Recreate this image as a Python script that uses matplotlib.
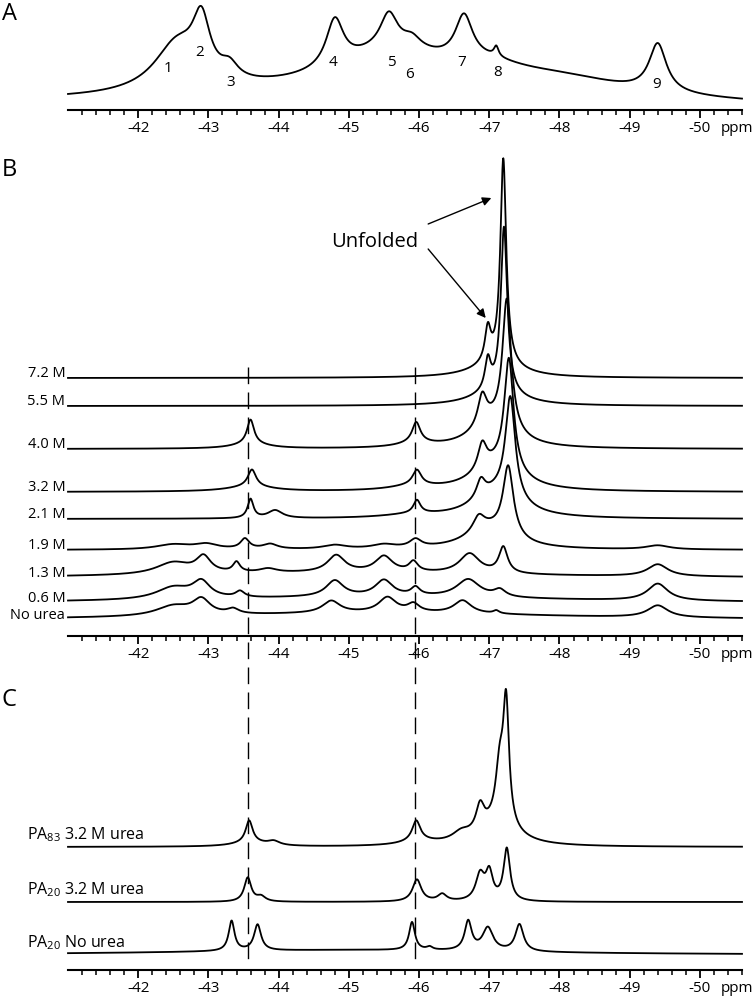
import numpy as np
import matplotlib
matplotlib.use("Agg")
import matplotlib.pyplot as plt
from matplotlib import transforms
from matplotlib.ticker import FixedLocator, FormatStrFormatter

plt.rcParams['font.family'] = ['Open Sans', 'DejaVu Sans']
plt.rcParams['axes.unicode_minus'] = False
plt.rcParams['mathtext.default'] = 'regular'

# ---- data (peaks: centre ppm, height, full width ppm) ----
ppm_range = (-41.0, -50.6)
major_ticks = [-42, -43, -44, -45, -46, -47, -48, -49, -50]

# panel A: native spectrum, numbered resonances
a_peaks = [(-46.0, 16, 7.0), (-45.6, 36, 2.0), (-48.0, 15, 2.5), (-47.0, 12, 1.2),
           (-42.55, 48, 0.8), (-42.9, 56, 0.3), (-43.3, 14, 0.3), (-44.8, 47, 0.3),
           (-45.57, 34, 0.3), (-45.9, 10, 0.3), (-46.64, 44, 0.3), (-47.1, 10, 0.08),
           (-49.4, 48, 0.3)]
a_base = (5, 0)
a_numbers = ["1", "2", "3", "4", "5", "6", "7", "8", "9"]
a_number_ppm = [-42.43, -42.88, -43.32, -44.77, -45.60, -45.87, -46.60, -47.12, -49.39]

# panel B: urea titration
b_labels = ["7.2 M", "5.5 M", "4.0 M", "3.2 M", "2.1 M", "1.9 M", "1.3 M", "0.6 M", "No urea"]
b_72 = [(-47.20, 205, 0.10), (-46.98, 33, 0.10), (-47.1, 14, 0.8)]
b_55 = [(-47.21, 165, 0.11), (-46.98, 30, 0.10), (-47.1, 14, 0.8)]
b_40 = [(-47.25, 130, 0.15), (-46.90, 30, 0.15), (-47.05, 25, 0.7),
        (-43.60, 24, 0.12), (-43.6, 5, 0.6), (-45.96, 20, 0.14), (-45.95, 4, 0.6)]
b_32 = [(-47.28, 112, 0.16), (-46.90, 26, 0.15), (-47.1, 25, 0.8),
        (-43.62, 17, 0.14), (-43.6, 5, 0.8), (-45.97, 15, 0.15), (-45.9, 4, 0.8)]
b_21 = [(-47.30, 102, 0.17), (-46.88, 18, 0.15), (-47.1, 25, 0.8),
        (-43.60, 19, 0.10), (-43.95, 8, 0.25), (-45.97, 13, 0.12), (-45.9, 3, 1.0)]
b_19 = [(-47.27, 70, 0.18), (-46.85, 15, 0.2), (-47.0, 20, 0.8),
        (-43.52, 10, 0.15), (-43.88, 5, 0.25), (-42.5, 5, 0.6), (-42.97, 5, 0.4),
        (-45.95, 8, 0.2), (-45.5, 4, 0.4), (-44.8, 4, 0.4), (-49.4, 4, 0.4)]
b_13 = [(-45.0, 5, 6.0), (-42.5, 12, 0.6), (-42.93, 16, 0.25), (-43.4, 10, 0.12),
        (-43.85, 4, 0.3), (-44.82, 17, 0.3), (-45.5, 16, 0.3), (-45.92, 10, 0.15),
        (-46.72, 20, 0.35), (-47.2, 26, 0.15), (-49.4, 12, 0.35)]
b_06 = [(-45.5, 6, 6.0), (-42.5, 12, 0.6), (-42.9, 16, 0.3), (-43.45, 6, 0.15),
        (-44.8, 16, 0.3), (-45.5, 16, 0.3), (-45.95, 8, 0.15), (-46.7, 18, 0.4),
        (-47.15, 7, 0.2), (-49.4, 17, 0.35)]
b_00 = [(-45.5, 7, 6.0), (-42.5, 10, 0.6), (-42.9, 15, 0.3), (-43.35, 5, 0.2),
        (-44.75, 12, 0.3), (-45.55, 15, 0.3), (-45.92, 8, 0.2), (-46.62, 13, 0.3),
        (-47.1, 3, 0.1), (-49.4, 12, 0.35)]
b_peaks = [b_72, b_55, b_40, b_32, b_21, b_19, b_13, b_06, b_00]

# panel C: constructs
c_labels = ["PA$_{83}$ 3.2 M urea", "PA$_{20}$ 3.2 M urea", "PA$_{20}$ No urea"]
c_pa83_32 = [(-43.58, 22, 0.12), (-43.93, 4, 0.2), (-43.6, 4, 0.6), (-45.96, 20, 0.14),
             (-46.0, 4, 0.6), (-46.6, 8, 0.3), (-46.87, 25, 0.14), (-47.15, 55, 0.14),
             (-47.24, 118, 0.10), (-47.1, 20, 0.7)]
c_pa20_32 = [(-43.56, 24, 0.12), (-43.75, 5, 0.15), (-45.97, 22, 0.15), (-46.33, 7, 0.15),
             (-46.87, 26, 0.15), (-47.0, 27, 0.12), (-47.25, 52, 0.11)]
c_pa20_00 = [(-45.0, 5, 6.0), (-43.33, 30, 0.10), (-43.7, 26, 0.12), (-45.9, 28, 0.10),
             (-46.15, 3, 0.1), (-46.7, 29, 0.12), (-46.98, 23, 0.18), (-47.43, 27, 0.14)]
c_peaks = [c_pa83_32, c_pa20_32, c_pa20_00]

dashed_ppm = [-43.57, -45.94]

# ---- layout (pixel units, vertical offsets of stacked traces) ----
W, H = 755, 997
b_offsets = [258, 230, 187, 144, 117, 86, 58, 33, 16]
c_offsets = [123, 68, 15]


def lorentz_sum(x, peaks):
    y = np.zeros_like(x)
    for c, h, w in peaks:
        y += h / (1 + ((x - c) / (w / 2)) ** 2)
    return y


def px_axes(fig, x0, y_top, x1, y_bot):
    return fig.add_axes([x0 / W, 1 - y_bot / H, (x1 - x0) / W, (y_bot - y_top) / H])


def style_axis(ax, height):
    ax.set_xlim(*ppm_range)
    ax.set_ylim(0, height)
    for s in ("left", "right", "top"):
        ax.spines[s].set_visible(False)
    ax.spines["bottom"].set_linewidth(1.5)
    ax.set_yticks([])
    ax.xaxis.set_major_locator(FixedLocator(major_ticks))
    minors = [round(v, 1) for v in np.arange(-41.2, -50.65, -0.2)
              if abs(v - round(v)) > 0.05]
    ax.xaxis.set_minor_locator(FixedLocator(minors))
    ax.xaxis.set_major_formatter(FormatStrFormatter("%d"))
    ax.tick_params(axis="x", which="major", length=6, width=1.3, pad=2, labelsize=11)
    ax.tick_params(axis="x", which="minor", length=3.5, width=1.1)
    ax.patch.set_visible(False)
    ax.annotate("ppm", xy=(0.993, 0), xycoords="axes fraction", xytext=(0, -8),
                textcoords="offset points", ha="center", va="top", fontsize=11)


fig = plt.figure(figsize=(W / 100, H / 100), dpi=100)
x = np.linspace(ppm_range[0], ppm_range[1], 3000)
lw = 1.3

# A
axA = px_axes(fig, 68, 5, 742, 110)
style_axis(axA, 105)
baseA = np.linspace(a_base[0], a_base[1], x.size)
axA.plot(x, baseA + lorentz_sum(x, a_peaks), color="black", lw=lw, clip_on=False)
a_ytext = [42, 57, 27, 48, 48, 35, 48, 38, 25]
for lab, p, yy in zip(a_numbers, a_number_ppm, a_ytext):
    axA.text(p, yy, lab, ha="center", va="center", fontsize=11)

# B
axB = px_axes(fig, 68, 160, 742, 636)
style_axis(axB, 476)
for lab, pk, off in zip(b_labels, b_peaks, b_offsets):
    axB.plot(x, off + lorentz_sum(x, pk), color="black", lw=lw, clip_on=False)
    axB.annotate(lab, xy=(0, off), xycoords=("axes fraction", "data"), xytext=(-2, 1),
                 textcoords="offset points", ha="right", va="baseline", fontsize=10.5)
axB.text(-45.37, 389, "Unfolded", ha="center", va="baseline", fontsize=14.5)
arrow = dict(arrowstyle="-|>", lw=1.0, color="black", mutation_scale=13,
             shrinkA=0, shrinkB=0)
axB.annotate("", xy=(-47.03, 438), xytext=(-46.13, 412), arrowprops=arrow)
axB.annotate("", xy=(-46.95, 318), xytext=(-46.13, 387), arrowprops=arrow)

# C
axC = px_axes(fig, 68, 680, 742, 970)
style_axis(axC, 290)
for lab, pk, off in zip(c_labels, c_peaks, c_offsets):
    axC.plot(x, off + lorentz_sum(x, pk), color="black", lw=lw, clip_on=False)
    axC.annotate(lab, xy=(0, off), xycoords=("axes fraction", "data"), xytext=(-29.5, 5.5),
                 textcoords="offset points", ha="left", va="baseline", fontsize=11.5)

# dashed guide lines spanning B and C
trans = transforms.blended_transform_factory(axB.transData, fig.transFigure)
for p in dashed_ppm:
    fig.add_artist(plt.Line2D([p, p], [1 - 367 / H, 1 - 962 / H], transform=trans,
                              color="black", lw=1.0, dashes=(12, 6)))

# panel letters
for lab, (px, py) in zip(["A", "B", "C"], [(10, 14), (9, 170), (9, 700)]):
    fig.text(px / W, 1 - py / H, lab, ha="center", va="center", fontsize=17)

fig.savefig("out.png", dpi=100)
